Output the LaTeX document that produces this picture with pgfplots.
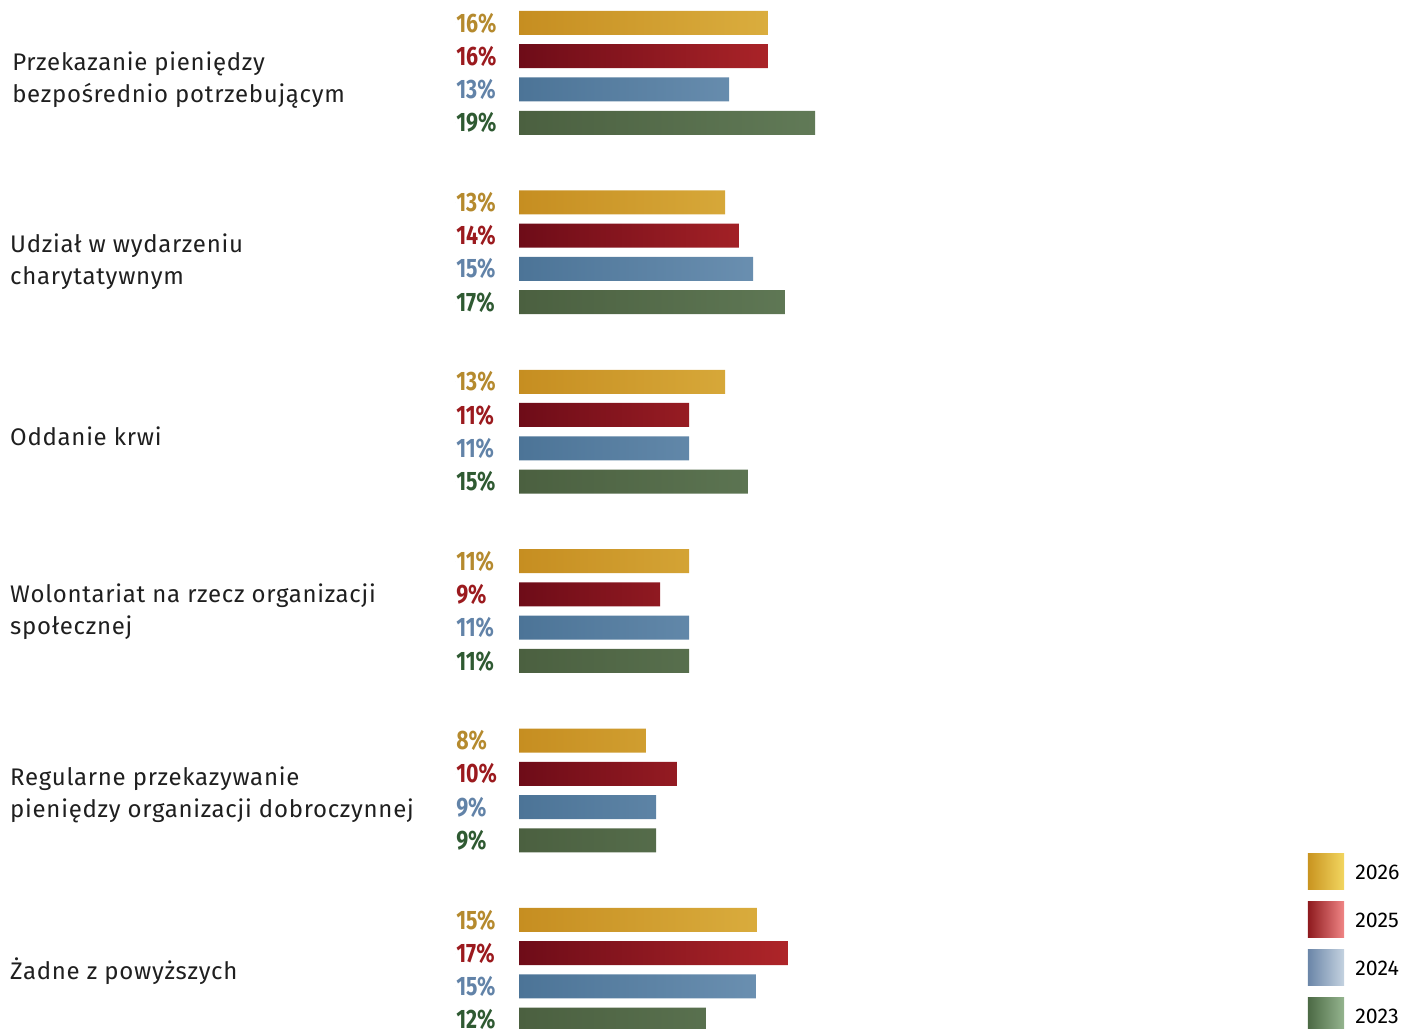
\documentclass[border=0pt]{standalone}
\usepackage{pgfplots}
\pgfplotsset{compat=1.18}
\usepackage{fontspec}
\setmainfont{Fira Sans}
\newfontfamily\pctfont{Fira Sans}[FakeStretch=0.8]
\newfontfamily\catfont{Fira Sans}[LetterSpace=3]
\definecolor{goldL}{HTML}{C68E21}\definecolor{goldR}{HTML}{DAAD3E}
\definecolor{redL}{HTML}{6E0C18}\definecolor{redR}{HTML}{AE2529}
\definecolor{blueL}{HTML}{4C7497}\definecolor{blueR}{HTML}{6A8FB0}
\definecolor{greenL}{HTML}{4B6040}\definecolor{greenR}{HTML}{617A57}
\definecolor{pGold}{HTML}{B58A2E}\definecolor{pRed}{HTML}{9B1A1E}
\definecolor{pBlue}{HTML}{6283A8}\definecolor{pGreen}{HTML}{2F5A32}
\definecolor{catText}{HTML}{1F1F1F}
\definecolor{lgGoldL}{HTML}{C99420}\definecolor{lgGoldR}{HTML}{F2D660}
\definecolor{lgRedL}{HTML}{8E1A1E}\definecolor{lgRedM}{HTML}{D0282D}\definecolor{lgRedR}{HTML}{F08585}
\definecolor{lgBlueL}{HTML}{6B86A8}\definecolor{lgBlueR}{HTML}{C4D2E0}
\definecolor{lgGreenL}{HTML}{4C6A45}\definecolor{lgGreenR}{HTML}{94B48E}
\begin{document}
\begin{tikzpicture}
\begin{axis}[
  scale only axis, width=1053pt, height=771.75pt,
  xmin=-33.484, xmax=57.097, ymin=-1029, ymax=0,
  axis lines=none, clip=true,
  xbar, bar width=18pt, bar shift=0pt,
]
% 2026
\addplot[xbar, draw=none, left color=goldL, right color=goldR] coordinates {
 (16.06,-23) (13.29,-202.4) (13.29,-381.8) (10.97,-561.2) (8.19,-740.6) (15.35,-920)};
% 2025
\addplot[xbar, draw=none, left color=redL, right color=redR] coordinates {
 (16.06,-56.2) (14.19,-235.6) (10.97,-415) (9.10,-594.4) (10.19,-773.8) (17.35,-953.2)};
% 2024
\addplot[xbar, draw=none, left color=blueL, right color=blueR] coordinates {
 (13.55,-89.5) (15.10,-268.9) (10.97,-448.3) (10.97,-627.7) (8.84,-807.1) (15.29,-986.5)};
% 2023
\addplot[xbar, draw=none, left color=greenL, right color=greenR] coordinates {
 (19.10,-122.8) (17.16,-302.2) (14.77,-481.6) (10.97,-661) (8.84,-840.4) (12.06,-1019.8)};
% percent labels
\pgfplotsset{pctlab/.style={forget plot, only marks, mark=*, mark size=0pt, mark options={draw=none,fill=none},
  nodes near coords, point meta=explicit symbolic,
  every node near coord/.style={anchor=west, inner sep=0pt, text=#1, font=\pctfont\bfseries\fontsize{20}{20}\selectfont}}}
\addplot[pctlab=pGold] table[meta=l, x=x, y=y] {
x y l
-4.065 -23 16\%
-4.065 -202.4 13\%
-4.065 -381.8 13\%
-4.065 -561.2 11\%
-4.065 -740.6 8\%
-4.065 -920 15\%
};
\addplot[pctlab=pRed] table[meta=l, x=x, y=y] {
x y l
-4.065 -56.2 16\%
-4.065 -235.6 14\%
-4.065 -415 11\%
-4.065 -594.4 9\%
-4.065 -773.8 10\%
-4.065 -953.2 17\%
};
\addplot[pctlab=pBlue] table[meta=l, x=x, y=y] {
x y l
-4.065 -89.5 13\%
-4.065 -268.9 15\%
-4.065 -448.3 11\%
-4.065 -627.7 11\%
-4.065 -807.1 9\%
-4.065 -986.5 15\%
};
\addplot[pctlab=pGreen] table[meta=l, x=x, y=y] {
x y l
-4.065 -122.8 19\%
-4.065 -302.2 17\%
-4.065 -481.6 15\%
-4.065 -661 11\%
-4.065 -840.4 9\%
-4.065 -1019.8 12\%
};
% category labels (base anchor = baseline of last line)
\begin{scope}[every node/.style={anchor=base west, align=left, inner sep=0pt, text=catText, font=\catfont\fontsize{18}{24}\selectfont}]
\node at (axis cs:-32.71,-102.5) {Przekazanie pieniędzy\\bezpośrednio potrzebującym};
\node at (axis cs:-32.84,-285) {Udział w wydarzeniu\\charytatywnym};
\node at (axis cs:-32.84,-446) {Oddanie krwi};
\node at (axis cs:-32.84,-635) {Wolontariat na rzecz organizacji\\społecznej};
\node at (axis cs:-32.84,-818) {Regularne przekazywanie\\pieniędzy organizacji dobroczynnej};
\node at (axis cs:-32.84,-979.5) {Żadne z powyższych};
\end{scope}
% legend
\shade[left color=lgGoldL, right color=lgGoldR] (axis cs:50.9,-854) rectangle (axis cs:53.23,-890);
\shade[left color=lgRedL, middle color=lgRedM, right color=lgRedR] (axis cs:50.9,-902) rectangle (axis cs:53.23,-938);
\shade[left color=lgBlueL, right color=lgBlueR] (axis cs:50.9,-950) rectangle (axis cs:53.23,-986);
\shade[left color=lgGreenL, right color=lgGreenR] (axis cs:50.9,-998) rectangle (axis cs:53.23,-1034);
\begin{scope}[every node/.style={anchor=west, inner sep=0pt, text=black, font=\fontsize{16}{16}\selectfont}]
\node at (axis cs:53.94,-872) {2026};
\node at (axis cs:53.94,-920) {2025};
\node at (axis cs:53.94,-968) {2024};
\node at (axis cs:53.94,-1016) {2023};
\end{scope}
\end{axis}
\pgfresetboundingbox
\path[use as bounding box] (current axis.south west) rectangle (current axis.north east);
\end{tikzpicture}
\end{document}
